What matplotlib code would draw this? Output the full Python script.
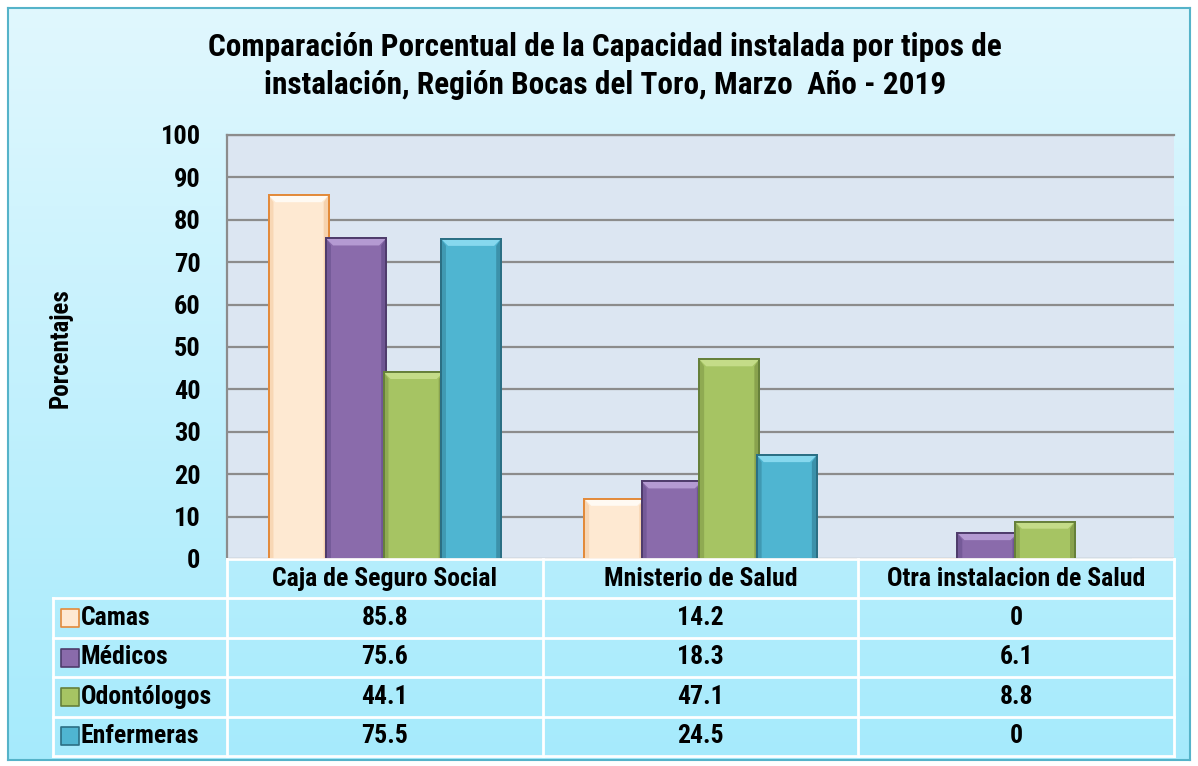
import numpy as np
import matplotlib.pyplot as plt
from matplotlib.patches import Polygon, Rectangle
from matplotlib import font_manager

# data
categories = ["Caja de Seguro Social", "Mnisterio de Salud", "Otra instalacion de Salud"]
series = ["Camas", "Médicos", "Odontólogos", "Enfermeras"]
camas = [85.8, 14.2, 0]
medicos = [75.6, 18.3, 6.1]
odontologos = [44.1, 47.1, 8.8]
enfermeras = [75.5, 24.5, 0]
values = [camas, medicos, odontologos, enfermeras]
labels = [["85.8", "14.2", "0"], ["75.6", "18.3", "6.1"],
          ["44.1", "47.1", "8.8"], ["75.5", "24.5", "0"]]
yticks = list(range(0, 101, 10))

face = ["#fee9d2", "#8a6bab", "#a6c463", "#4fb5d1"]
edge = ["#e38a3a", "#4f3c6c", "#66803a", "#2b6f84"]
light = ["#fffaf3", "#b49ad2", "#c4dc88", "#86d8ee"]
dark = ["#f6d0aa", "#6d5491", "#869f4c", "#3a8ea6"]

# pick a narrow bold sans
wanted = ["Liberation Sans Narrow", "Arial Narrow", "Roboto Condensed", "Archivo Narrow",
          "PT Sans Narrow", "Fira Sans Condensed", "Liberation Sans"]
bold_fams = {f.name for f in font_manager.fontManager.ttflist
             if (isinstance(f.weight, int) and f.weight >= 600) or f.weight == "bold"}
fam = next((n for n in wanted if n in bold_fams), "DejaVu Sans")
plt.rcParams['font.family'] = [fam, 'DejaVu Sans']
plt.rcParams['font.weight'] = 'bold'

W, H = 1198, 766
fig = plt.figure(figsize=(W / 100, H / 100), dpi=100)
fig.patch.set_facecolor("white")

# background box with gradient
bg = fig.add_axes([8 / W, 1 - 760 / H, 1182 / W, 752 / H])
grad = np.linspace(0, 1, 256).reshape(-1, 1)
top_c = np.array([0.88, 0.97, 0.995])
bot_c = np.array([0.65, 0.92, 0.99])
img = top_c + (bot_c - top_c) * grad[..., None]
bg.imshow(img, aspect="auto", extent=[0, 1, 0, 1], origin="upper")
bg.set_xticks([])
bg.set_yticks([])
for s in bg.spines.values():
    s.set_color("#55b3c9")
    s.set_linewidth(1.5)

# main plot
x0, x1, y0, y1 = 227, 1174, 135, 559
ax = fig.add_axes([x0 / W, 1 - y1 / H, (x1 - x0) / W, (y1 - y0) / H])
ax.set_facecolor("#dce6f2")
ax.set_xlim(-0.5, len(categories) - 0.5)
ax.set_ylim(0, 100)
ax.set_yticks(yticks)
ax.tick_params(axis="y", length=0, pad=19, labelsize=19)
for t in ax.get_yticklabels():
    t.set_fontweight("bold")
ax.set_xticks([])
ax.grid(axis="y", color="#8c8c8c", linewidth=1.6)
ax.set_axisbelow(True)
for k in ["right", "bottom"]:
    ax.spines[k].set_visible(False)
for k in ["left", "top"]:
    ax.spines[k].set_color("#8c8c8c")
    ax.spines[k].set_linewidth(1.6)

xpix = (x1 - x0) / len(categories)
ypix = (y1 - y0) / 100.0
step = 57.5 / xpix
width = 60 / xpix
bx = 7 / xpix
by = 7 / ypix
x = np.arange(len(categories))
for i, vals in enumerate(values):
    bars = ax.bar(x + (i - 1.5) * step, vals, width, color=face[i],
                  edgecolor=edge[i], linewidth=1.2, zorder=2 + i * 0.01)
    for b in bars:
        h = b.get_height()
        if h <= 0:
            continue
        l, r = b.get_x(), b.get_x() + b.get_width()
        e = min(by, h / 2)
        z = 2.005 + i * 0.01
        ax.add_patch(Polygon([[l, h], [r, h], [r - bx, h - e], [l + bx, h - e]],
                             closed=True, fc=light[i], ec="none", zorder=z))
        ax.add_patch(Polygon([[l, 0], [l, h], [l + bx * 0.7, h - e], [l + bx * 0.7, 0]],
                             closed=True, fc=dark[i], ec="none", alpha=0.7, zorder=z))
        ax.add_patch(Polygon([[r, 0], [r, h], [r - bx * 0.7, h - e], [r - bx * 0.7, 0]],
                             closed=True, fc=dark[i], ec="none", alpha=0.9, zorder=z))
        ax.add_patch(Rectangle((l, 0), r - l, h, fc="none", ec=edge[i], lw=1.4,
                               zorder=z + 0.003))

fig.text(61 / W, 1 - 348 / H, "Porcentajes", rotation=90, ha="center", va="center",
         fontsize=18, fontweight="bold")

fig.text(605 / W, 1 - 47 / H, "Comparación Porcentual de la Capacidad instalada por tipos de",
         ha="center", va="center", fontsize=22.5, fontweight="bold")
fig.text(605 / W, 1 - 85 / H, "instalación, Región Bocas del Toro, Marzo  Año - 2019",
         ha="center", va="center", fontsize=22.5, fontweight="bold")

# data table
t_top, t_bot = 559, 756
tb = fig.add_axes([x0 / W, 1 - t_bot / H, (x1 - x0) / W, (t_bot - t_top) / H])
tb.set_xlim(-0.5, len(categories) - 0.5)
tb.set_ylim(len(series) + 1, 0)
tb.axis("off")
left_x = -0.5 - (x0 - 53) / xpix
lc = "white"
tb.plot([-0.5, len(categories) - 0.5], [0, 0], color=lc, lw=2, clip_on=False)
for r in range(1, len(series) + 2):
    tb.plot([left_x, len(categories) - 0.5], [r, r], color=lc, lw=2, clip_on=False)
for c in range(len(categories) + 1):
    tb.plot([c - 0.5, c - 0.5], [0, len(series) + 1], color=lc, lw=2, clip_on=False)
tb.plot([left_x, left_x], [1, len(series) + 1], color=lc, lw=2, clip_on=False)

fs = 18.5
for j, cat in enumerate(categories):
    tb.text(j, 0.5, cat, ha="center", va="center", fontsize=fs, fontweight="bold")
for i, s in enumerate(series):
    tb.scatter([left_x + 17 / xpix], [i + 1.5], marker="s", s=170, color=face[i],
               edgecolor=edge[i], linewidth=1.2, clip_on=False, zorder=3)
    tb.text(left_x + 28 / xpix, i + 1.5, s, ha="left", va="center", fontsize=fs,
            fontweight="bold")
    for j in range(len(categories)):
        tb.text(j, i + 1.5, labels[i][j], ha="center", va="center", fontsize=fs,
                fontweight="bold")

fig.savefig("out.png", dpi=100, facecolor=fig.get_facecolor())
